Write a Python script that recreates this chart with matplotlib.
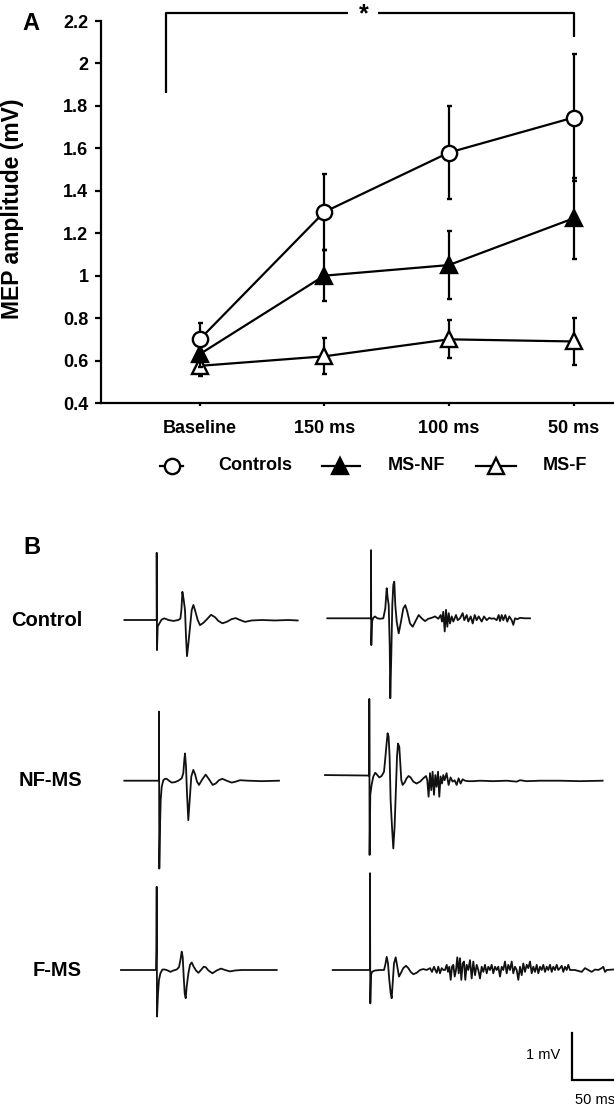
import matplotlib
matplotlib.use('Agg')
import matplotlib.pyplot as plt
from matplotlib.lines import Line2D

plt.rcParams['font.family'] = ['Liberation Sans', 'DejaVu Sans']

# ---------------- Panel A data ----------------
categories = ['Baseline', '150 ms', '100 ms', '50 ms']
controls_mean = [0.70, 1.30, 1.58, 1.745]
controls_sem = [0.075, 0.18, 0.22, 0.30]
msnf_mean = [0.63, 1.00, 1.05, 1.27]
msnf_sem = [0.06, 0.12, 0.16, 0.19]
msf_mean = [0.575, 0.62, 0.70, 0.69]
msf_sem = [0.05, 0.085, 0.09, 0.11]
yticks = [0.4, 0.6, 0.8, 1.0, 1.2, 1.4, 1.6, 1.8, 2.0, 2.2]
ytick_labels = ['0.4', '0.6', '0.8', '1', '1.2', '1.4', '1.6', '1.8', '2', '2.2']
legend_labels = ['Controls', 'MS-NF', 'MS-F']

# ---------------- Panel B data (time in ms from stimulus, amplitude in mV) ----------------
control_left_t = [-32.3, -1.0, 0, 0, 0.3, 1.0, 2.7, 5.0, 7.7, 11.7, 16.7, 21.7, 23.7, 24.7, 25.7, 27.0,
                  28.3, 29.3, 30.3, 31.7, 33.7, 35.0, 36.7, 38.3, 41.0, 43.3, 46.7, 50.0, 54.3, 58.3,
                  61.7, 65.7, 70.0, 75.0, 79.0, 83.3, 88.3, 95.0, 105.0, 118.3, 131.7, 141.0]
control_left_v = [0, 0, 0, 1.43, -0.64, -0.14, -0.07, 0.01, 0.035, 0, -0.02, 0, 0.03, 0.21, 0.60, 0.43,
                  0.21, -0.35, -0.77, -0.50, -0.07, 0.21, 0.32, 0.21, 0, -0.11, -0.06, 0.01, 0.11, 0.06,
                  -0.02, -0.07, -0.04, 0.02, 0.04, 0, -0.04, -0.01, 0, -0.01, 0, -0.01]

control_right_t = [-43.7, -1.0, 0, 0, 0.3, 1.0, 2.3, 4.0, 6.3, 9.0, 12.3, 14.3, 15.7, 16.7, 17.7, 18.7,
                   19.3, 20.3, 21.3, 22.3, 23.3, 24.3, 25.7, 27.7, 30.0, 32.3, 34.3, 36.3, 39.0, 41.7,
                   45.0, 47.7, 50.7, 54.0, 57.3, 60.7, 64.0, 67.3, 69.7, 71.0, 72.3, 73.7, 75.0, 76.3,
                   77.7, 79.0, 80.7, 82.3, 85.0, 86.7, 89.0, 91.7, 93.3, 95.7, 97.3, 99.7, 101.7, 103.7,
                   105.7, 107.7, 110.7, 113.0, 115.7, 118.3, 120.7, 123.0, 125.7, 127.7, 129.0, 130.7,
                   132.3, 134.3, 136.3, 138.3, 140.7, 142.3, 144.0, 146.3, 149.0, 154.0, 159.0]
control_right_v = [0, 0, 0, 1.45, -0.57, -0.07, 0.01, 0.04, 0, -0.01, 0, 0.21, 0.64, 0.43, 0.28, -0.57,
                   -1.70, -0.78, 0.28, 0.71, 0.78, 0.28, -0.07, -0.32, -0.07, 0.21, 0.28, 0.14, -0.11, -0.18,
                   -0.04, 0.07, 0, -0.06, -0.01, 0.01, 0.04, -0.01, 0.07, -0.07, 0.14, -0.28, 0.18, -0.18,
                   0.11, -0.11, 0.04, -0.07, 0.07, -0.04, 0, 0.11, -0.04, 0.07, -0.07, 0.04, -0.11, 0.07,
                   -0.04, 0.04, -0.07, 0.04, -0.04, 0.01, -0.01, 0, -0.04, 0.07, -0.06, 0.07,
                   -0.04, 0.07, -0.07, 0.04, -0.04, -0.14, 0, -0.02, 0.01, 0, 0]

nf_left_t = [-34.7, -0.7, 0, 0, 0.3, 1.0, 1.7, 2.7, 4.3, 6.0, 7.7, 10.0, 12.7, 16.0, 19.3, 22.7, 24.3,
             25.3, 26.0, 27.0, 28.0, 29.3, 30.7, 32.3, 34.3, 36.0, 38.0, 40.0, 43.3, 46.7, 50.0, 53.7,
             56.7, 60.0, 63.3, 67.7, 72.7, 76.7, 81.0, 89.3, 102.7, 120.0]
nf_left_v = [0, 0, 0, 1.47, -1.87, -0.98, -0.41, -0.13, 0.01, 0.04, 0.04, 0, -0.04, -0.03, 0, 0.05, 0.16,
             0.44, 0.58, 0.30, -0.27, -0.84, -0.41, 0.09, 0.23, 0.14, -0.02, -0.09, 0.03, 0.13, 0.03, -0.09,
             -0.06, 0.01, 0.04, 0, -0.04, -0.02, 0.01, 0, -0.01, 0]

nf_right_t = [-44.3, -1.0, 0, 0, 0.3, 1.0, 2.3, 4.0, 6.0, 8.0, 10.0, 12.3, 14.7, 16.0, 17.3, 18.3, 19.3,
              20.3, 21.3, 22.7, 24.0, 25.3, 26.7, 27.7, 28.7, 30.0, 31.0, 32.0, 33.3, 35.3, 37.3, 39.3,
              41.3, 44.0, 47.3, 50.7, 54.0, 56.7, 58.0, 59.3, 60.7, 62.0, 63.3, 64.7, 66.0, 67.3, 68.7,
              70.0, 71.3, 72.7, 74.0, 75.3, 77.3, 79.3, 81.3, 83.3, 85.3, 87.3, 89.3, 91.3, 93.3, 95.7,
              99.0, 104.0, 110.7, 124.0, 137.3, 147.3, 150.7, 157.3, 170.7, 190.7, 210.7, 233.3]
nf_right_v = [0.12, 0.11, 0.11, 1.74, -1.58, -0.30, -0.09, 0.09, 0.17, 0.12, 0.07, 0.10, 0.19, 0.48, 0.79,
              1.01, 0.94, 0.51, -0.41, -0.98, -1.44, -0.98, -0.13, 0.51, 0.79, 0.72, 0.37, 0.01, -0.09,
              -0.04, 0.05, 0.10, 0.07, -0.02, -0.06, -0.02, 0.05, 0.10, 0.01, -0.34, 0.16, -0.20, 0.19,
              -0.30, 0.12, -0.13, 0.19, -0.34, 0.09, -0.06, 0.12, 0.01, 0.16, -0.09, 0.07, -0.02, 0.01,
              -0.09, 0.05, -0.06, 0.03, 0, -0.01, -0.01, 0, -0.01, 0, -0.02, 0.01, -0.01, 0, 0, -0.01, 0]

f_left_t = [-35.7, -1.7, -0.7, -0.3, 0, 0.3, 1.3, 2.3, 3.7, 5.7, 8.3, 11.0, 13.7, 16.7, 20.0, 22.3, 23.7,
            25.0, 26.0, 27.0, 28.0, 29.0, 30.0, 31.7, 33.3, 35.0, 37.0, 39.3, 41.7, 44.3, 47.0, 49.0,
            51.7, 55.7, 60.0, 64.3, 68.3, 73.3, 78.3, 85.0, 98.3, 120.0]
f_left_v = [0, 0, 0, 0.46, 1.77, -0.99, -0.50, -0.21, -0.07, 0.01, 0.01, -0.01, -0.04, -0.01, 0.01, 0.06,
            0.21, 0.39, 0.28, -0.14, -0.50, -0.60, -0.35, -0.07, 0.11, 0.16, 0.07, -0.01, -0.06, 0, 0.07,
            0.06, -0.01, -0.07, -0.01, 0.03, 0, -0.03, -0.01, 0, 0, 0]

f_right_t = [-37.3, -0.7, 0, 0, 0.3, 1.0, 2.0, 5.0, 10.0, 14.0, 15.3, 16.7, 18.0, 19.3, 20.7, 21.7, 22.7,
             24.0, 25.7, 27.3, 29.0, 31.0, 33.3, 36.0, 38.3, 40.7, 43.3, 46.7, 50.0, 53.3, 56.7, 60.0,
             62.0, 64.0, 65.3, 66.7, 68.3, 70.0, 71.7, 73.3, 75.0, 76.7, 78.0, 79.3, 80.7, 82.0, 83.3,
             84.7, 86.0, 87.3, 88.7, 90.0, 91.3, 92.7, 94.0, 95.3, 96.7, 98.3, 100.0, 101.7, 103.3,
             105.0, 106.7, 108.3, 110.0, 111.7, 113.3, 115.0, 116.7, 118.3, 120.0, 121.7, 123.3, 125.0,
             126.7, 128.3, 130.0, 131.7, 133.3, 135.0, 136.7, 138.3, 140.0, 141.7, 143.3, 145.0, 146.7,
             148.3, 150.0, 151.7, 153.3, 155.0, 156.7, 158.3, 160.0, 161.7, 163.3, 165.0, 166.7, 168.3,
             170.0, 171.7, 173.3, 175.0, 176.7, 178.3, 180.0, 181.7, 183.3, 185.0, 186.7, 188.3, 190.0,
             191.7, 193.3, 195.0, 196.7, 198.3, 200.0, 205.0, 211.7, 215.0, 218.3, 221.7, 225.0, 228.3,
             231.7, 233.3, 235.0, 236.7, 243.3]
f_right_v = [0, 0, 0, 2.06, -0.71, -0.11, -0.04, -0.01, 0, 0, 0.11, 0.28, 0.14, -0.21, -0.50, -0.60, -0.28,
             0.14, 0.27, 0.07, -0.14, -0.06, 0.04, 0.09, 0.04, -0.04, -0.09, -0.06, 0, 0.02, 0, 0.04,
             -0.04, 0.07, 0, -0.06, 0.07, -0.07, 0.04, 0, 0, 0.11, -0.04, 0.07, -0.21, 0.07, 0.11,
             -0.14, 0, 0.27, -0.07, 0.25, -0.21, 0.14, 0.18, -0.21, 0.11, 0, 0.21, -0.18, 0.18,
             -0.11, 0.11, 0, -0.18, 0.07, -0.04, 0.11, -0.07, 0.07, 0, 0.11, -0.07, 0.07,
             0, 0.07, -0.14, 0.07, 0, 0.18, -0.07, 0.11, 0, 0.18, -0.07, 0.07, 0,
             -0.21, 0.07, -0.11, 0.14, -0.04, 0.11, 0.04, 0.18, -0.07, 0.07, -0.04, 0.11, -0.07,
             0.07, 0, 0.11, -0.04, 0.07, 0, 0.11, -0.04, 0.07, 0, 0.11, 0, 0.04,
             0.09, -0.04, 0.07, 0, 0.11, 0, 0, -0.04, 0.04, 0, -0.04, 0.01, 0,
             0.04, 0.07, -0.04, 0, 0.01]

row_labels = ['Control', 'NF-MS', 'F-MS']
scale_mv = 1.0
scale_ms = 50.0

# ---------------- Figure ----------------
W, H = 614, 1108
fig = plt.figure(figsize=(W / 100, H / 100), dpi=100)

# Panel A axes (pixel geometry of the reference)
ax_left, ax_right, ax_top, ax_bot = 101, 614, 21, 403
ax = fig.add_axes([ax_left / W, 1 - ax_bot / H, (ax_right - ax_left) / W, (ax_bot - ax_top) / H])
x = list(range(len(categories)))
cat_px0, cat_dx = 199.7, 124.6
ax.set_xlim((ax_left - cat_px0) / cat_dx, (ax_right - cat_px0) / cat_dx)
ax.set_ylim(0.4, 2.2)

lw = 1.6
common = dict(color='black', lw=lw, elinewidth=lw, capsize=1.8, capthick=2.6, ms=11, mew=1.7,
              clip_on=False)
ax.errorbar(x, msf_mean, yerr=msf_sem, marker='^', mfc='white', mec='black', zorder=3, **common)
ax.errorbar(x, msnf_mean, yerr=msnf_sem, marker='^', mfc='black', mec='black', zorder=4, **common)
ax.errorbar(x, controls_mean, yerr=controls_sem, marker='o', mfc='white', mec='black', zorder=5, **common)

for s in ['top', 'right']:
    ax.spines[s].set_visible(False)
for s in ['left', 'bottom']:
    ax.spines[s].set_linewidth(1.6)
ax.set_yticks(yticks)
ax.set_yticklabels(ytick_labels, fontsize=13, fontweight='bold')
ax.set_xticks(x)
ax.set_xticklabels(categories, fontsize=13, fontweight='bold')
ax.tick_params(axis='y', direction='out', length=4, width=1.6, pad=5)
ax.tick_params(axis='x', direction='out', length=2.5, width=1.6, pad=10)
ax.set_ylabel('MEP amplitude (mV)', fontsize=16.5, fontweight='bold', labelpad=8)
ax.yaxis.set_label_coords((24 - ax_left) / (ax_right - ax_left), (ax_bot - 209) / (ax_bot - ax_top))

# significance bracket
br_y, br_left_bottom, br_right_bottom = 2.236, 1.86, 2.126
br_x0, br_x1 = -0.27, 3
gap0, gap1, star_x = 1.19, 1.43, 1.32
bk = dict(color='black', lw=1.6, clip_on=False, solid_capstyle='butt')
ax.plot([br_x0, br_x0, gap0], [br_left_bottom, br_y, br_y], **bk)
ax.plot([gap1, br_x1, br_x1], [br_y, br_y, br_right_bottom], **bk)
ax.text(star_x, br_y - 0.005, '*', ha='center', va='center', fontsize=18, fontweight='bold')

# overlay axes in pixel coords for labels & legend
ov = fig.add_axes([0, 0, 1, 1], zorder=-1)
ov.set_xlim(0, W)
ov.set_ylim(H, 0)
ov.axis('off')
ov.text(31, 23, 'A', fontsize=17, fontweight='bold', ha='center', va='center')
ov.text(32, 548, 'B', fontsize=17, fontweight='bold', ha='center', va='center')

# legend
leg_y = 466
leg_items = [
    (160, 183, 171.5, 'o', 'white', 218),
    (322, 360, 340.0, '^', 'black', 388),
    (476, 516, 496.0, '^', 'white', 543),
]
for (x0, x1, xm, mk, fc, tx), lab in zip(leg_items, legend_labels):
    ov.add_line(Line2D([x0, x1], [leg_y, leg_y], color='black', lw=lw))
    ov.plot([xm], [leg_y], marker=mk, ms=11, mfc=fc, mec='black', mew=1.7, color='black')
    ov.text(tx, leg_y, lab, fontsize=13, fontweight='bold', ha='left', va='center')

# row labels
for lab, ly in zip(row_labels, [620, 780, 970]):
    ov.text(82, ly, lab, fontsize=14.5, fontweight='bold', ha='right', va='center')

# ---------------- Panel B traces ----------------
PX_PER_MV = 47.0
PX_PER_MS = 1.0
axb = fig.add_axes([0, 0, 1, 1])
axb.set_xlim(0, W / PX_PER_MS)
axb.set_ylim(-H / PX_PER_MV, 0)
axb.axis('off')

traces = [
    (control_left_t, control_left_v, 156.7, 620.0),
    (control_right_t, control_right_v, 371.0, 618.3),
    (nf_left_t, nf_left_v, 159.0, 780.7),
    (nf_right_t, nf_right_v, 369.3, 780.7),
    (f_left_t, f_left_v, 156.7, 970.0),
    (f_right_t, f_right_v, 370.0, 970.0),
]
for tt, vv, xs, yb in traces:
    axb.plot([t + xs / PX_PER_MS for t in tt], [v - yb / PX_PER_MV for v in vv],
             color='#111111', lw=1.3, solid_joinstyle='round')

# scale bar
sb_x, sb_y = 571.7, 1080.0
axb.plot([sb_x / PX_PER_MS, sb_x / PX_PER_MS, sb_x / PX_PER_MS + scale_ms],
         [-sb_y / PX_PER_MV + scale_mv, -sb_y / PX_PER_MV, -sb_y / PX_PER_MV],
         color='black', lw=1.6, solid_joinstyle='miter')
axb.text(560 / PX_PER_MS, -1055 / PX_PER_MV, '1 mV', fontsize=10.5, ha='right', va='center')
axb.text(575 / PX_PER_MS, -1100 / PX_PER_MV, '50 ms', fontsize=10.5, ha='left', va='center')

fig.savefig('out.png', dpi=100)
